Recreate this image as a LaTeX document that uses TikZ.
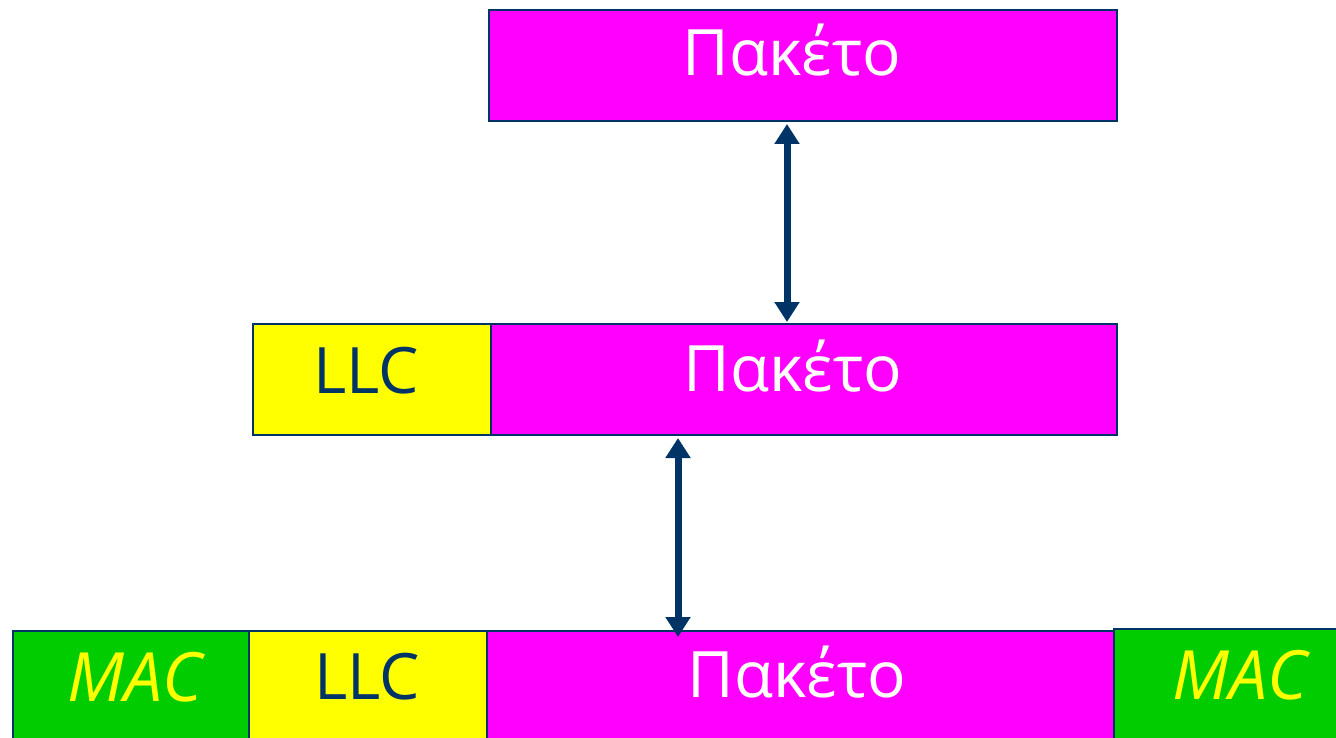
\documentclass[tikz,border=0pt]{standalone}
\usepackage{fontspec}
\setmainfont{Open Sans}
\usetikzlibrary{arrows.meta}
\definecolor{navy}{HTML}{003366}
\definecolor{mag}{HTML}{FF00FF}
\definecolor{yel}{HTML}{FFFF00}
\definecolor{grn}{HTML}{00CC00}
\tikzset{
  box/.style={draw=navy, line width=2pt, inner sep=0pt, anchor=north west},
  pak/.style={box, fill=mag},
  llc/.style={box, fill=yel},
  mac/.style={box, fill=grn},
  txt/.style={font=\fontsize{64}{64}\selectfont, inner sep=0pt},
  mactxt/.style={inner sep=0pt, text=yel, font=\fontsize{68}{68}\selectfont\itshape},
  link/.style={navy, line width=7pt, {Triangle[width=24pt,length=20pt]}-{Triangle[width=24pt,length=20pt]}}
}
\begin{document}
\begin{tikzpicture}[x=1pt,y=-1pt]
\useasboundingbox (0,0) rectangle (1336,738);
\begin{scope}
\clip (0,0) rectangle (1336,738);
% top
\node[pak, minimum width=628pt, minimum height=111pt] (p1) at (488,9) {};
% middle
\node[llc, minimum width=238pt, minimum height=111pt] (l2) at (252,323) {};
\node[pak, minimum width=626pt, minimum height=111pt] (p2) at (490,323) {};
% bottom
\node[mac, minimum width=236pt, minimum height=130pt] (m3) at (12,630) {};
\node[llc, minimum width=238pt, minimum height=130pt] (l3) at (248,630) {};
\node[pak, minimum width=627pt, minimum height=130pt] (p3) at (486,630) {};
\node[mac, minimum width=240pt, minimum height=130pt] (m4) at (1113,628) {};
\end{scope}
% texts
\node[txt, text=white] (t1) at (792,50) {Πακέτο};
\node[txt, text=white] (t2) at (793,366) {Πακέτο};
\node[txt, text=navy] (t3) at (366,371) {LLC};
\node[txt, text=navy] (t4) at (367,677) {LLC};
\node[mactxt] (t5) at (135,677) {MAC};
\node[txt, text=white] (t6) at (797,672) {Πακέτο};
\node[mactxt] (t7) at (1240,675) {MAC};
% arrows
\coordinate (a1) at (787,124);
\coordinate (b1) at (787,322);
\coordinate (a2) at (678,438);
\coordinate (b2) at (678,637);
\draw[link] (a1) -- (b1);
\draw[link] (a2) -- (b2);
\end{tikzpicture}
\end{document}
